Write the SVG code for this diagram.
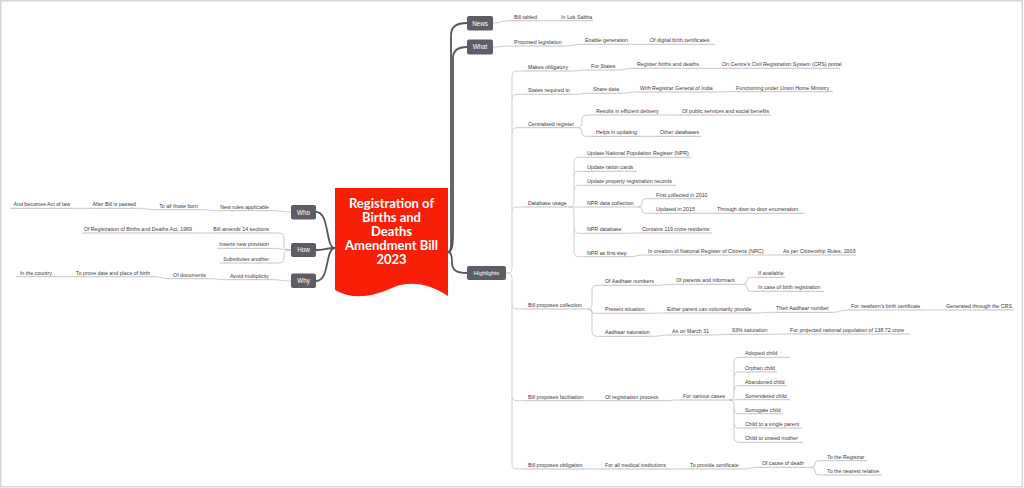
<svg xmlns="http://www.w3.org/2000/svg" width="1024" height="488" viewBox="0 0 1024 488">
<style>
.t{font-family:"Liberation Sans",Arial,sans-serif;font-size:5.3px;fill:#3a3a3a}
.e{text-anchor:end}
.u{stroke:#a8a8a8;stroke-width:0.7;fill:none}
.c{stroke:#b4b4b4;stroke-width:0.7;fill:none}
.tr{stroke:#cfcfcf;stroke-width:1;fill:none}
.m{stroke:#56565d;stroke-width:1.8;fill:none}
.r{fill:#5d5d66}
.rt{font-family:"Liberation Sans",Arial,sans-serif;font-size:6.3px;fill:#fff;text-anchor:middle}
.ct{font-family:Lato,"Open Sans",sans-serif;font-weight:700;font-size:13px;fill:#fff;text-anchor:middle}
</style>
<rect x="0" y="0" width="1024" height="488" fill="#fff"/>
<rect x="0.75" y="0.75" width="1021.5" height="486" fill="none" stroke="#d6d6d6" stroke-width="1.5"/>

<g id="connectors">
<path class="m" d="M448,252 C452,252 451,240 451,232 V35 C451,27 456,23 467,23"/>
<path class="m" d="M448,252 C453,252 453,240 453,232 V58 C453,50 458,47 467,47"/>
<path class="m" d="M448,252 C451,252 452,256 452,262 C452,270 456,273 467,273"/>
<path class="m" d="M335,248 C325,248 330,212 316,212"/>
<path class="m" d="M335,248 C325,248 325,250 316,250"/>
<path class="m" d="M335,248 C325,248 330,281 316,281"/>
<path class="c" d="M493,23 C502,23 502,20.7 511,20.7"/>
<path class="c" d="M541,20.7 H558"/>
<path class="c" d="M493,47 C502,47 502,46 511,46"/>
<path class="c" d="M565,46 C573.5,46 573.5,44.3 582,44.3"/>
<path class="c" d="M630,44.3 H647"/>
<path class="tr" d="M506,273 H507 Q512,273 512,268 V76 Q512,71 517,71 H525"/>
<path class="tr" d="M512,99.3 Q512,94.3 517,94.3 H525"/>
<path class="tr" d="M512,132.7 Q512,127.7 517,127.7 H525"/>
<path class="tr" d="M512,212 Q512,207 517,207 H525"/>
<path class="tr" d="M507,273 Q512,273 512,278 V464 Q512,469 517,469 H525"/>
<path class="tr" d="M512,304 Q512,309 517,309 H525"/>
<path class="tr" d="M512,395.7 Q512,400.7 517,400.7 H525"/>
<path class="c" d="M571,71 C579.5,71 579.5,70 588,70"/>
<path class="c" d="M617,70 C625.5,70 625.5,68.3 634,68.3"/>
<path class="c" d="M701,68.3 H719"/>
<path class="c" d="M572,94.3 C581,94.3 581,93.3 590,93.3"/>
<path class="c" d="M621,93.3 C629,93.3 629,92 637,92"/>
<path class="c" d="M716,92 C724.5,92 724.5,91.7 733,91.7"/>
<path class="c" d="M576,127.7 H577 Q582,127.7 582,122.7 V120 Q582,115 587,115 H593"/>
<path class="c" d="M577.7,127.7 Q582,127.7 582,132 Q582,136.3 586.3,136.3 H593"/>
<path class="c" d="M662,115 H679"/>
<path class="c" d="M640,136.3 H657"/>
<path class="tr" d="M567,207 H569 Q574,207 574,202 V162.3 Q574,157.3 579,157.3 H584"/>
<path class="tr" d="M574,176.3 Q574,171.3 579,171.3 H584"/>
<path class="tr" d="M574,190.3 Q574,185.3 579,185.3 H584"/>
<path class="tr" d="M569,207 H584"/>
<path class="tr" d="M569,207 Q574,207 574,212 V251.7 Q574,256.7 579,256.7 H584"/>
<path class="tr" d="M574,228.3 Q574,233.3 579,233.3 H584"/>
<path class="c" d="M626,207 H637.85 Q642,207 642,202.85 Q642,198.7 646.15,198.7 H653"/>
<path class="c" d="M637.85,207 Q642,207 642,210.15 Q642,213.3 645.15,213.3 H653"/>
<path class="c" d="M697,213.3 H714"/>
<path class="c" d="M622,233.3 C630.5,233.3 630.5,233 639,233"/>
<path class="c" d="M628,256.7 C636.5,256.7 636.5,255 645,255"/>
<path class="c" d="M763,255 H780"/>
<path class="c" d="M585,309 H587 Q592,309 592,304 V290.3 Q592,285.3 597,285.3 H602"/>
<path class="c" d="M587,309 Q592,309 592,314 V331.3 Q592,336.3 597,336.3 H602"/>
<path class="c" d="M589.85,309 Q592,309 592,311.15 Q592,313.3 594.15,313.3 H602"/>
<path class="c" d="M656,285.3 C664.5,285.3 664.5,284.3 673,284.3"/>
<path class="c" d="M738,284.3 H743.5 Q747,284.3 747,280.8 Q747,277.3 750.5,277.3 H755"/>
<path class="c" d="M743.5,284.3 Q747,284.3 747,287.8 Q747,291.3 750.5,291.3 H755"/>
<path class="c" d="M647,313.3 C655.5,313.3 655.5,313 664,313"/>
<path class="c" d="M755,313 C764,313 764,312.3 773,312.3"/>
<path class="c" d="M832,312.3 C840,312.3 840,310 848,310"/>
<path class="c" d="M926,310 H943"/>
<path class="c" d="M653,336.3 C661,336.3 661,335 669,335"/>
<path class="c" d="M712,335 C720.5,335 720.5,334.3 729,334.3"/>
<path class="c" d="M770,334.3 C778.5,334.3 778.5,334 787,334"/>
<path class="c" d="M586,400.7 H602"/>
<path class="c" d="M662,400.7 C671,400.7 671,400 680,400"/>
<path class="c" d="M726,400 H729 Q734,400 734,395 V362.3 Q734,357.3 739,357.3 H742"/>
<path class="c" d="M734,377 Q734,372 739,372 H742"/>
<path class="c" d="M734,390.7 Q734,385.7 739,385.7 H742"/>
<path class="c" d="M729,400 C734,400 736,399.7 742,399.7"/>
<path class="c" d="M729,400 Q734,400 734,405 V437.3 Q734,442.3 739,442.3 H742"/>
<path class="c" d="M734,408.7 Q734,413.7 739,413.7 H742"/>
<path class="c" d="M734,423 Q734,428 739,428 H742"/>
<path class="c" d="M585,469 H602"/>
<path class="c" d="M670,469 H687"/>
<path class="c" d="M742,469 C750.5,469 750.5,467.3 759,467.3"/>
<path class="c" d="M807,467.3 H811.7 Q815,467.3 815,464 Q815,460.7 818.3,460.7 H824"/>
<path class="c" d="M811.15,467.3 Q815,467.3 815,471.15 Q815,475 818.85,475 H824"/>
<path class="c" d="M291,212 C281.5,212 281.5,210.7 272,210.7"/>
<path class="c" d="M217,210.7 C209,210.7 209,209.7 201,209.7"/>
<path class="c" d="M155,209.7 C147,209.7 147,208.3 139,208.3"/>
<path class="c" d="M90,208.3 H73"/>
<path class="c" d="M291,250 H289 Q284,250 284,245 V238 Q284,233 279,233 H272"/>
<path class="c" d="M291,250 C281,250 282,248.3 272,248.3"/>
<path class="c" d="M289,250 Q284,250 284,255 V258 Q284,263 279,263 H272"/>
<path class="c" d="M212,233 H195"/>
<path class="c" d="M291,281 C281.5,281 281.5,279.7 272,279.7"/>
<path class="c" d="M226,279.7 C217.5,279.7 217.5,278.7 209,278.7"/>
<path class="c" d="M170,278.7 C161.5,278.7 161.5,276.7 153,276.7"/>
<path class="c" d="M72,276.7 H55"/>
</g>

<g id="central">
<path d="M335,188 H448 V296 C430,284 410,280 392,288 C372,297 352,300 335,290 Z" fill="#f81e07"/>
<text class="ct" x="391.5" y="208">Registration of</text>
<text class="ct" x="391.5" y="222">Births and</text>
<text class="ct" x="391.5" y="236">Deaths</text>
<text class="ct" x="391.5" y="250">Amendment Bill</text>
<text class="ct" x="391.5" y="264">2023</text>
</g>

<g id="news"><rect class="r" x="467" y="16" width="26" height="14.5" rx="2"/><text class="rt" x="480" y="25.5">News</text></g>
<g id="what"><rect class="r" x="467" y="39.5" width="26" height="15" rx="2"/><text class="rt" x="480" y="49.3">What</text></g>
<g id="highlights"><rect class="r" x="467" y="266" width="39" height="14" rx="2"/><text class="rt" x="486.5" y="275.3" style="font-size:5.8px">Highlights</text></g>
<g id="who"><rect class="r" x="291" y="205" width="25" height="14.5" rx="2"/><text class="rt" x="303.5" y="214.5">Who</text></g>
<g id="how"><rect class="r" x="291" y="243" width="25" height="14" rx="2"/><text class="rt" x="303.5" y="252.3">How</text></g>
<g id="why"><rect class="r" x="291" y="273.5" width="25" height="14.5" rx="2"/><text class="rt" x="303.5" y="283">Why</text></g>

<g id="n-bill-tabled"><text class="t" x="514" y="18.6">Bill tabled</text><path class="u" d="M511,20.7 H541"/></g>
<g id="n-lok-sabha"><text class="t" x="561" y="18.6">In Lok Sabha</text><path class="u" d="M558,20.7 H593"/></g>
<g id="w-proposed"><text class="t" x="514" y="43.9">Proposed legislation</text><path class="u" d="M511,46 H565"/></g>
<g id="w-enable"><text class="t" x="585" y="42.2">Enable generation</text><path class="u" d="M582,44.3 H630"/></g>
<g id="w-digital"><text class="t" x="650" y="42.2">Of digital birth certificates</text><path class="u" d="M647,44.3 H715"/></g>

<g id="h1"><text class="t" x="528" y="68.9">Makes obligatory</text><path class="u" d="M525,71 H571"/></g>
<g id="h1a"><text class="t" x="591" y="67.9">For States</text><path class="u" d="M588,70 H617"/></g>
<g id="h1b"><text class="t" x="637" y="66.2">Register births and deaths</text><path class="u" d="M634,68.3 H701"/></g>
<g id="h1c"><text class="t" x="722" y="66.2">On Centre's Civil Registration System (CRS) portal</text><path class="u" d="M719,68.3 H840"/></g>
<g id="h2"><text class="t" x="528" y="92.2">States required to</text><path class="u" d="M525,94.3 H572"/></g>
<g id="h2a"><text class="t" x="593" y="91.2">Share data</text><path class="u" d="M590,93.3 H621"/></g>
<g id="h2b"><text class="t" x="640" y="89.9">With Registrar General of India</text><path class="u" d="M637,92 H716"/></g>
<g id="h2c"><text class="t" x="736" y="89.6">Functioning under Union Home Ministry</text><path class="u" d="M733,91.7 H833"/></g>
<g id="h3"><text class="t" x="528" y="125.6">Centralised register</text><path class="u" d="M525,127.7 H576"/></g>
<g id="h3a"><text class="t" x="596" y="112.9">Results in efficient delivery</text><path class="u" d="M593,115 H662"/></g>
<g id="h3b"><text class="t" x="682" y="112.9">Of public services and social benefits</text><path class="u" d="M679,115 H771"/></g>
<g id="h3c"><text class="t" x="596" y="134.2">Helps in updating</text><path class="u" d="M593,136.3 H640"/></g>
<g id="h3d"><text class="t" x="660" y="134.2">Other databases</text><path class="u" d="M657,136.3 H701"/></g>
<g id="h4"><text class="t" x="528" y="204.9">Database usage</text><path class="u" d="M525,207 H567"/></g>
<g id="h4a"><text class="t" x="587" y="155.2">Update National Population Register (NPR)</text><path class="u" d="M584,157.3 H691"/></g>
<g id="h4b"><text class="t" x="587" y="169.2">Update ration cards</text><path class="u" d="M584,171.3 H637"/></g>
<g id="h4c"><text class="t" x="587" y="183.2">Update property registration records</text><path class="u" d="M584,185.3 H676"/></g>
<g id="h4d"><text class="t" x="587" y="204.9">NPR data collection</text><path class="u" d="M584,207 H626"/></g>
<g id="h4d1"><text class="t" x="656" y="196.6">First collected in 2010</text><path class="u" d="M653,198.7 H701"/></g>
<g id="h4d2"><text class="t" x="656" y="211.2">Updated in 2015</text><path class="u" d="M653,213.3 H697"/></g>
<g id="h4d3"><text class="t" x="717" y="211.2">Through door-to-door enumeration</text><path class="u" d="M714,213.3 H804"/></g>
<g id="h4e"><text class="t" x="587" y="231.2">NPR database</text><path class="u" d="M584,233.3 H622"/></g>
<g id="h4e1"><text class="t" x="642" y="230.9">Contains 119 crore residents</text><path class="u" d="M639,233 H712"/></g>
<g id="h4f"><text class="t" x="587" y="254.6">NPR as first step</text><path class="u" d="M584,256.7 H628"/></g>
<g id="h4f1"><text class="t" x="648" y="252.9">In creation of National Register of Citizens (NRC)</text><path class="u" d="M645,255 H763"/></g>
<g id="h4f2"><text class="t" x="783" y="252.9">As per Citizenship Rules, 2003</text><path class="u" d="M780,255 H856"/></g>
<g id="h5"><text class="t" x="528" y="306.9">Bill proposes collection</text><path class="u" d="M525,309 H585"/></g>
<g id="h5a"><text class="t" x="605" y="283.2">Of Aadhaar numbers</text><path class="u" d="M602,285.3 H656"/></g>
<g id="h5a1"><text class="t" x="676" y="282.2">Of parents and informant</text><path class="u" d="M673,284.3 H738"/></g>
<g id="h5a2"><text class="t" x="758" y="275.2">If available</text><path class="u" d="M755,277.3 H785"/></g>
<g id="h5a3"><text class="t" x="758" y="289.2">In case of birth registration</text><path class="u" d="M755,291.3 H824"/></g>
<g id="h5b"><text class="t" x="605" y="311.2">Present situation</text><path class="u" d="M602,313.3 H647"/></g>
<g id="h5b1"><text class="t" x="667" y="310.9">Either parent can voluntarily provide</text><path class="u" d="M664,313 H755"/></g>
<g id="h5b2"><text class="t" x="776" y="310.2">Their Aadhaar number</text><path class="u" d="M773,312.3 H832"/></g>
<g id="h5b3"><text class="t" x="851" y="307.9">For newborn's birth certificate</text><path class="u" d="M848,310 H926"/></g>
<g id="h5b4"><text class="t" x="946" y="307.9">Generated through the CRS</text><path class="u" d="M943,310 H1014"/></g>
<g id="h5c"><text class="t" x="605" y="334.2">Aadhaar saturation</text><path class="u" d="M602,336.3 H653"/></g>
<g id="h5c1"><text class="t" x="672" y="332.9">As on March 31</text><path class="u" d="M669,335 H712"/></g>
<g id="h5c2"><text class="t" x="732" y="332.2">93% saturation</text><path class="u" d="M729,334.3 H770"/></g>
<g id="h5c3"><text class="t" x="790" y="331.9">For projected national population of 138.72 crore</text><path class="u" d="M787,334 H910"/></g>
<g id="h6"><text class="t" x="528" y="398.6">Bill proposes facilitation</text><path class="u" d="M525,400.7 H586"/></g>
<g id="h6a"><text class="t" x="605" y="398.6">Of registration process</text><path class="u" d="M602,400.7 H662"/></g>
<g id="h6b"><text class="t" x="683" y="397.9">For various cases</text><path class="u" d="M680,400 H726"/></g>
<g id="c-adopted"><text class="t" x="745" y="355.2">Adopted child</text><path class="u" d="M742,357.3 H790"/></g>
<g id="c-orphan"><text class="t" x="745" y="369.9">Orphan child</text><path class="u" d="M742,372 H777"/></g>
<g id="c-abandoned"><text class="t" x="745" y="383.6">Abandoned child</text><path class="u" d="M742,385.7 H787"/></g>
<g id="c-surrendered"><text class="t" x="745" y="397.6">Surrendered child</text><path class="u" d="M742,399.7 H790"/></g>
<g id="c-surrogate"><text class="t" x="745" y="411.6">Surrogate child</text><path class="u" d="M742,413.7 H783"/></g>
<g id="c-single"><text class="t" x="745" y="425.9">Child to a single parent</text><path class="u" d="M742,428 H802"/></g>
<g id="c-unwed"><text class="t" x="745" y="440.2">Child to unwed mother</text><path class="u" d="M742,442.3 H803"/></g>
<g id="h7"><text class="t" x="528" y="466.9">Bill proposes obligation</text><path class="u" d="M525,469 H585"/></g>
<g id="h7a"><text class="t" x="605" y="466.9">For all medical institutions</text><path class="u" d="M602,469 H670"/></g>
<g id="h7b"><text class="t" x="690" y="466.9">To provide certificate</text><path class="u" d="M687,469 H742"/></g>
<g id="h7c"><text class="t" x="762" y="465.2">Of cause of death</text><path class="u" d="M759,467.3 H807"/></g>
<g id="h7d"><text class="t" x="827" y="458.6">To the Registrar</text><path class="u" d="M824,460.7 H867"/></g>
<g id="h7e"><text class="t" x="827" y="472.9">To the nearest relative</text><path class="u" d="M824,475 H882"/></g>

<g id="l1"><text class="t e" x="269" y="208.6">New rules applicable</text><path class="u" d="M217,210.7 H272"/></g>
<g id="l1a"><text class="t e" x="198" y="207.6">To all those born</text><path class="u" d="M155,209.7 H201"/></g>
<g id="l1b"><text class="t e" x="136" y="206.2">After Bill is passed</text><path class="u" d="M90,208.3 H139"/></g>
<g id="l1c"><text class="t e" x="70" y="206.2">And becomes Act of law</text><path class="u" d="M10,208.3 H73"/></g>
<g id="l2"><text class="t e" x="269" y="230.9">Bill amends 14 sections</text><path class="u" d="M212,233 H272"/></g>
<g id="l2a"><text class="t e" x="192" y="230.9">Of Registration of Births and Deaths Act, 1969</text><path class="u" d="M82,233 H195"/></g>
<g id="l3"><text class="t e" x="269" y="246.2">Inserts new provision</text><path class="u" d="M217,248.3 H272"/></g>
<g id="l4"><text class="t e" x="269" y="260.9">Substitutes another</text><path class="u" d="M220,263 H272"/></g>
<g id="l5"><text class="t e" x="269" y="277.6">Avoid multiplicity</text><path class="u" d="M226,279.7 H272"/></g>
<g id="l5a"><text class="t e" x="206" y="276.6">Of documents</text><path class="u" d="M170,278.7 H209"/></g>
<g id="l5b"><text class="t e" x="150" y="274.6">To prove date and place of birth</text><path class="u" d="M72,276.7 H153"/></g>
<g id="l5c"><text class="t e" x="52" y="274.6">In the country</text><path class="u" d="M16,276.7 H55"/></g>
</svg>
